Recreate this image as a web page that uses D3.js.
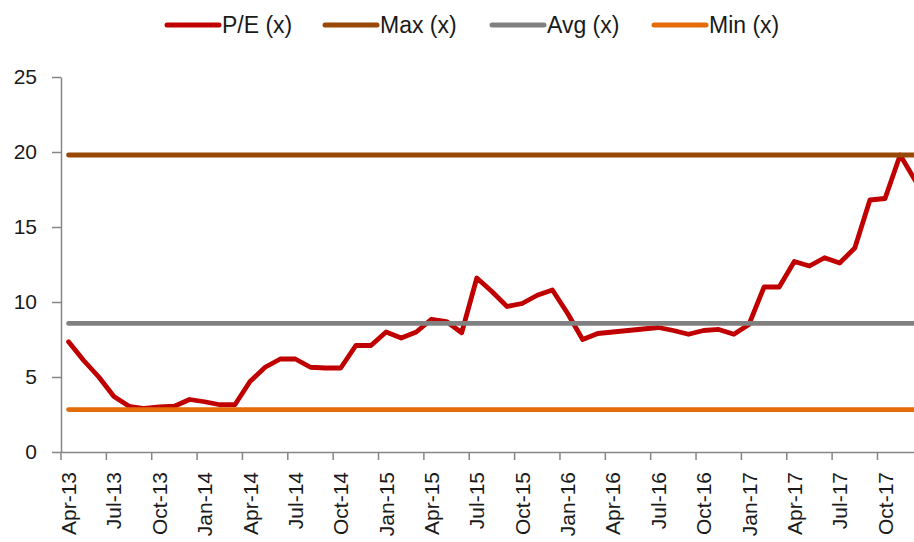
<!DOCTYPE html>
<html>
<head>
<meta charset="utf-8">
<script src="https://cdn.jsdelivr.net/npm/d3@7"></script>
<style>
  html, body { margin: 0; padding: 0; background: #fff; }
  svg { display: block; overflow: hidden; }
  text { font-family: "Liberation Sans", Arial, sans-serif; fill: #1a1a1a; }
</style>
</head>
<body>
<svg id="chart" width="914" height="542"></svg>
<script>
// ---- data ----
const months = [
  "Apr-13","May-13","Jun-13","Jul-13","Aug-13","Sep-13","Oct-13","Nov-13","Dec-13",
  "Jan-14","Feb-14","Mar-14","Apr-14","May-14","Jun-14","Jul-14","Aug-14","Sep-14","Oct-14","Nov-14","Dec-14",
  "Jan-15","Feb-15","Mar-15","Apr-15","May-15","Jun-15","Jul-15","Aug-15","Sep-15","Oct-15","Nov-15","Dec-15",
  "Jan-16","Feb-16","Mar-16","Apr-16","May-16","Jun-16","Jul-16","Aug-16","Sep-16","Oct-16","Nov-16","Dec-16",
  "Jan-17","Feb-17","Mar-17","Apr-17","May-17","Jun-17","Jul-17","Aug-17","Sep-17","Oct-17","Nov-17","Dec-17"
];
const peValues = [
  7.35, 6.1, 5.0, 3.7, 3.05, 2.9, 3.0, 3.05, 3.5,
  3.35, 3.15, 3.15, 4.7, 5.65, 6.2, 6.2, 5.65, 5.6, 5.6, 7.1, 7.1,
  8.0, 7.6, 8.0, 8.85, 8.7, 7.95, 11.6, 10.7, 9.7, 9.9, 10.45, 10.8,
  9.25, 7.5, 7.9, 8.0, 8.1, 8.2, 8.3, 8.1, 7.85, 8.1, 8.17, 7.85,
  8.5, 11.0, 11.0, 12.7, 12.4, 12.95, 12.6, 13.6, 16.8, 16.9, 19.8, 18.1
];
const maxValue = 19.8;
const avgValue = 8.57;
const minValue = 2.83;
const yTicks = [0, 5, 10, 15, 20, 25];
const xTickLabels = months.filter((m, i) => i % 3 === 0);

const seriesNames = ["P/E (x)", "Max (x)", "Avg (x)", "Min (x)"];
const seriesColors = ["#C00000", "#984807", "#808080", "#E36C09"];

// ---- layout ----
const svg = d3.select("#chart");
const plotLeft = 61, plotTop = 77, plotBottom = 452;
const step = 15.12;
const x = d3.scaleBand().domain(months).range([plotLeft, plotLeft + months.length * step]).padding(0);
const y = d3.scaleLinear().domain([0, 25]).range([plotBottom, plotTop]);
const cx = m => x(m) + x.bandwidth() / 2;

// ---- series ----
const line = d3.line().x((d, i) => cx(months[i])).y(d => y(d)).curve(d3.curveLinear);

svg.append("path")
  .datum(peValues)
  .attr("d", line)
  .attr("fill", "none")
  .attr("stroke", seriesColors[0])
  .attr("stroke-width", 4.8)
  .attr("stroke-linejoin", "round")
  .attr("stroke-linecap", "round");

[maxValue, avgValue, minValue].forEach((v, k) => {
  svg.append("line")
    .attr("x1", cx(months[0]))
    .attr("x2", cx(months[months.length - 1]))
    .attr("y1", y(v)).attr("y2", y(v))
    .attr("stroke", seriesColors[k + 1])
    .attr("stroke-width", 4.8)
    .attr("stroke-linecap", "round");
});

// ---- axes ----
const axisColor = "#868686";

const yAxis = svg.append("g")
  .attr("transform", `translate(${plotLeft},0)`)
  .call(d3.axisLeft(y).tickValues(yTicks).tickSize(9).tickSizeOuter(0).tickPadding(15));
yAxis.select(".domain").attr("stroke", axisColor).attr("stroke-width", 1.5);
yAxis.selectAll(".tick line").attr("stroke", axisColor).attr("stroke-width", 1.5);
yAxis.selectAll(".tick text")
  .attr("font-size", 21).attr("font-family", "Liberation Sans, Arial, sans-serif")
  .attr("fill", "#1a1a1a");

const bw = x.bandwidth();
const xAxis = svg.append("g")
  .attr("transform", `translate(0,${plotBottom})`)
  .call(d3.axisBottom(x).tickValues(xTickLabels).tickSize(8).tickSizeOuter(0));
xAxis.select(".domain").attr("stroke", axisColor).attr("stroke-width", 1.5);
xAxis.selectAll(".tick line")
  .attr("stroke", axisColor).attr("stroke-width", 1.5)
  .attr("x1", -bw / 2).attr("x2", -bw / 2);
xAxis.selectAll(".tick text")
  .attr("font-size", 21).attr("font-family", "Liberation Sans, Arial, sans-serif")
  .attr("fill", "#1a1a1a")
  .attr("text-anchor", "end")
  .attr("transform", "rotate(-90)")
  .attr("x", -20).attr("y", 0).attr("dy", "0.36em");

// ---- legend ----
const legendX = [165, 323, 490, 652];
const legend = svg.append("g");
seriesNames.forEach((name, i) => {
  const g = legend.append("g").attr("transform", `translate(${legendX[i]},25)`);
  g.append("line")
    .attr("x1", 2).attr("x2", 54).attr("y1", 0).attr("y2", 0)
    .attr("stroke", seriesColors[i]).attr("stroke-width", 5)
    .attr("stroke-linecap", "round");
  g.append("text")
    .attr("x", 57).attr("y", 0).attr("dy", "0.36em")
    .attr("font-size", 23)
    .text(name);
});
</script>
</body>
</html>
